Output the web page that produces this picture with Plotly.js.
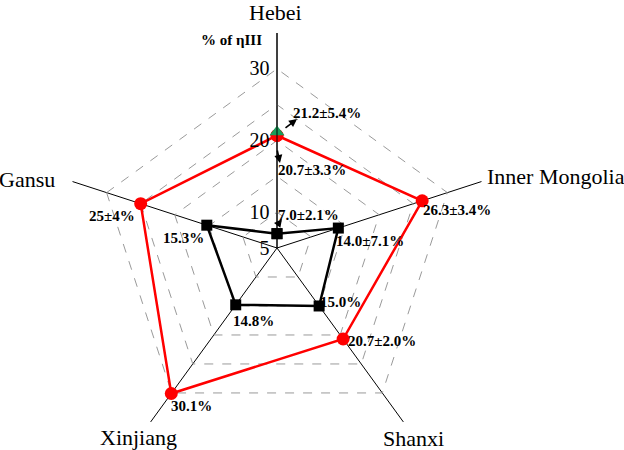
<!DOCTYPE html>
<html>
<head>
<meta charset="utf-8">
<script src="https://cdn.plot.ly/plotly-3.0.1.min.js"></script>
<style>
  body { margin: 0; overflow: hidden; background: #fff; }
  #chart { width: 624px; height: 470px; }
</style>
</head>
<body>
<div id="chart"></div>
<script>
// Data
const regions = ['Hebei', 'Inner Mongolia', 'Shanxi', 'Xinjiang', 'Gansu'];
const redValues = [20.7, 26.3, 20.7, 30.1, 25];
const blackValues = [7.0, 14.0, 15.0, 14.8, 15.3];
const greenRegion = ['Hebei'];
const greenValues = [21.2];
const radialTicks = [5, 10, 15, 20, 25, 30, 35];
const radialTickText = ['5', '10', '', '20', '', '30', ''];

const W = 624;
const H = 470;
const serif = '"Liberation Serif", serif';

// close the polygon
const closed = arr => arr.concat([arr[0]]);

// pixel -> paper helpers for labels
function px(x) { return x / W; }
function py(y) { return 1 - y / H; }

const traces = [
    {
        type: 'scatterpolar',
        r: closed(blackValues),
        theta: closed(regions),
        mode: 'lines+markers',
        line: { color: '#000', width: 2.5 },
        marker: { symbol: 'square', size: 11, color: '#000' },
        hoverinfo: 'skip'
    },
    {
        type: 'scatterpolar',
        r: closed(redValues),
        theta: closed(regions),
        mode: 'lines+markers',
        line: { color: '#ff0000', width: 2.5 },
        marker: { symbol: 'circle', size: 13, color: '#ff0000' },
        hoverinfo: 'skip'
    },
    {
        type: 'scatterpolar',
        r: greenValues,
        theta: greenRegion,
        mode: 'markers',
        marker: { symbol: 'triangle-up', size: 13, color: '#1a9c5a' },
        hoverinfo: 'skip'
    }
];

// value labels
const labelFont = { family: serif, size: 15, color: '#000', weight: 'bold' };
const labels = [
    ['21.2±5.4%', 327, 113],
    ['20.7±3.3%', 312, 170],
    ['7.0±2.1%', 308, 215],
    ['14.0±7.1%', 370, 241],
    ['26.3±3.4%', 457, 210],
    ['15.3%', 183, 238],
    ['25±4%', 112, 216],
    ['15.0%', 341, 302],
    ['20.7±2.0%', 382, 341],
    ['14.8%', 253, 321],
    ['30.1%', 191, 406]
];

const annotations = labels.map(l => ({
    text: l[0],
    xref: 'paper', yref: 'paper',
    x: px(l[1]), y: py(l[2]),
    xanchor: 'center', yanchor: 'middle',
    showarrow: false,
    font: labelFont
}));

// region names around the pentagon
const nameFont = { family: serif, size: 22, color: '#000' };
const names = [
    ['Hebei', 275, 13, 'center'],
    ['Inner Mongolia', 485, 176, 'left'],
    ['Shanxi', 413, 438, 'center'],
    ['Xinjiang', 138, 437, 'center'],
    ['Gansu', 57, 179, 'right']
];
names.forEach(n => {
    annotations.push({
        text: n[0],
        xref: 'paper', yref: 'paper',
        x: px(n[1]), y: py(n[2]),
        xanchor: n[3], yanchor: 'middle',
        showarrow: false,
        font: nameFont
    });
});

// small arrows next to Hebei values
const arrows = [
    [297, 119, -13, 10],
    [280, 163, -3, -14],
    [282, 219, -6, 8]
];
arrows.forEach(a => {
    annotations.push({
        text: '',
        xref: 'paper', yref: 'paper',
        x: px(a[0]), y: py(a[1]),
        ax: a[2], ay: a[3],
        showarrow: true,
        arrowhead: 2,
        arrowsize: 1,
        arrowwidth: 1.6,
        arrowcolor: '#000'
    });
});

// radial axis title
annotations.push({
    text: '% of ηIII',
    xref: 'paper', yref: 'paper',
    x: px(231), y: py(40),
    xanchor: 'center', yanchor: 'middle',
    showarrow: false,
    font: labelFont
});

const layout = {
    width: W,
    height: H,
    margin: { l: 0, r: 0, t: 0, b: 0 },
    paper_bgcolor: '#fff',
    showlegend: false,
    font: { family: serif, color: '#000' },
    polar: {
        domain: { x: [px(62), px(492)], y: [py(463), py(33)] },
        bgcolor: '#fff',
        gridshape: 'linear',
        radialaxis: {
            angle: 90,
            tickangle: 90,
            range: [5, 35.001],
            tickvals: radialTicks,
            ticktext: radialTickText,
            ticks: '',
            showline: true,
            linecolor: '#000',
            linewidth: 1,
            gridcolor: '#9a9a9a',
            griddash: 'dash',
            gridwidth: 1,
            side: 'counterclockwise',
            tickfont: { family: serif, size: 20, color: '#000' }
        },
        angularaxis: {
            direction: 'clockwise',
            rotation: 90,
            showline: false,
            showticklabels: false,
            ticks: '',
            gridcolor: '#000',
            gridwidth: 1
        }
    },
    annotations: annotations
};

Plotly.newPlot('chart', traces, layout, { displayModeBar: false, staticPlot: true });
</script>
</body>
</html>
